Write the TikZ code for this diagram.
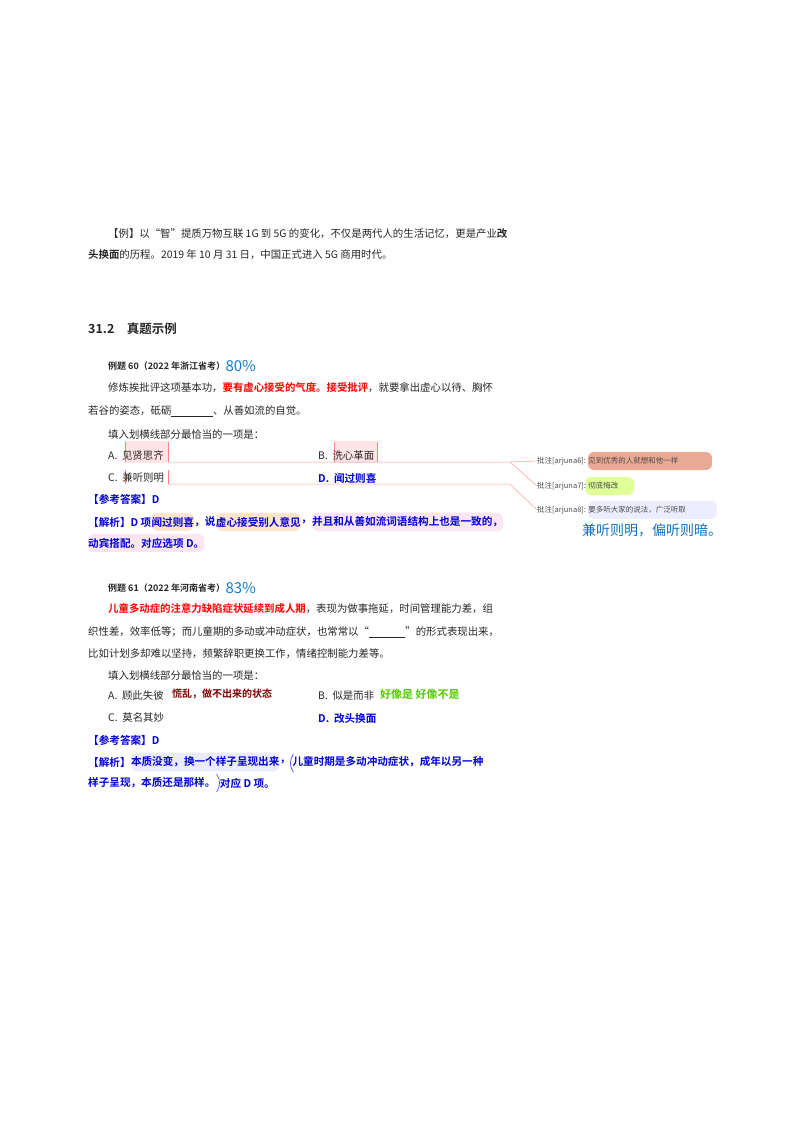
\documentclass[tikz,border=0pt]{standalone}
\usepackage{fontspec}
\setmainfont{Liberation Serif}
\newfontfamily\cjk{Noto Sans CJK SC}
\newfontfamily\cjkb{Noto Sans CJK SC Bold}
\begin{document}
\begin{tikzpicture}[x=1pt,y=-1pt,
 t/.style={anchor=west,inner sep=0pt,font=\cjk\fontsize{10.4}{11}\selectfont,text=black!85},
 tb/.style={t,font=\cjkb\fontsize{10.6}{11}\selectfont},
 bl/.style={tb,text=blue!85!black},
 nx/.style={anchor=west,at=(#1.east)},
 hl/.style={fill=#1,rounded corners=6pt,inner ysep=4pt,inner xsep=0pt},
 hand/.style={anchor=west,inner sep=0pt,font=\cjk\fontsize{15}{16}\selectfont,text=cyan!60!blue},
 cmt/.style={anchor=west,inner sep=0pt,font=\cjk\fontsize{7.5}{8}\selectfont,text=black!70},
 lnk/.style={draw=red!40,line width=0.5pt},
 par/.style={draw=blue!70,line width=0.7pt}]
\useasboundingbox (0,0) rectangle (800,1132);
% highlights
\fill[pink!40] (125,441) rectangle (168,463);
\fill[pink!40] (334,441) rectangle (377,463);
\fill[red!35!brown!50,rounded corners=6pt] (588,452) rectangle (712,470);
\fill[green!30!yellow!40,rounded corners=6pt] (585,477) rectangle (634,495);
\fill[blue!7,rounded corners=6pt] (588,501) rectangle (717,519);
\draw[red!50,line width=0.6pt] (125,442)--(125,462) (168,442)--(168,462) (334,442)--(334,462) (377,442)--(377,462)
 (125,470)--(125,484) (168,470)--(168,484);
% text
\node[t] (l1) at (108,234) {【例】以“智”提质万物互联 1G 到 5G 的变化，不仅是两代人的生活记忆，更是产业{\cjkb 改}};
\node[t] (l2) at (88,255) {{\cjkb 头换面}的历程。2019 年 10 月 31 日，中国正式进入 5G 商用时代。};
\node[tb,font=\cjkb\fontsize{12.5}{14}\selectfont] (h) at (88,329) {31.2\quad 真题示例};
\node[tb,font=\cjkb\fontsize{9}{10}\selectfont] (e60) at (108,366) {例题 60（2022 年浙江省考）};
\node[hand] (p60) at (e60.east) {80\%};
\node[t] (a1) at (108,388) {修炼挨批评这项基本功，{\cjkb\color{red}要有虚心接受的气度。接受批评}，就要拿出虚心以待、胸怀};
\node[t] (a2) at (88,411) {若谷的姿态，砥砺\underline{\hspace{4em}}、从善如流的自觉。};
\node[t] (a3) at (108,435) {填入划横线部分最恰当的一项是：};
\node[t] (oA) at (108,456) {A.\ \ 见贤思齐};
\node[t] (oB) at (318,456) {B.\ \ 洗心革面};
\node[t] (oC) at (108,478) {C.\ \ 兼听则明};
\node[bl] (oD) at (318,478) {D.\ \ 闻过则喜};
\node[bl] (ans) at (88,499) {【参考答案】D};
\node[bl] (j1a) at (88,522) {【解析】D 项};
\node[bl,hl=orange!20,nx=j1a] (j1b) {闻过则喜};
\node[bl,nx=j1b] (j1c) {，说};
\node[bl,hl=orange!20,nx=j1c] (j1d) {虚心接受别人意见};
\node[bl,nx=j1d] (j1e) {，};
\node[bl,hl=magenta!10,nx=j1e] (j1f) {并且和从善如流词语结构上也是一致的，};
\node[bl,hl=magenta!10] (j2) at (88,543) {动宾搭配。对应选项 D。};
\node[cmt] (c1) at (537,461) {批注[arjuna6]: 见到优秀的人就想和他一样};
\node[cmt] (c2) at (537,486) {批注[arjuna7]: 彻底悔改};
\node[cmt] (c3) at (537,510) {批注[arjuna8]: 要多听大家的说法，广泛听取};
\node[anchor=west,inner sep=0pt,font=\cjk\fontsize{14}{15}\selectfont,text=cyan!50!blue] (s) at (582,530) {兼听则明，偏听则暗。};
\coordinate (k1) at (510,462); \coordinate (k2) at (510,484);
\draw[lnk] (168,462) -- (k1) -- (c1.west); \draw[lnk] (k1) -- (c2.west);
\draw[lnk] (168,484) -- (k2) -- (c3.west);
\node[tb,font=\cjkb\fontsize{9}{10}\selectfont] (e61) at (108,588) {例题 61（2022 年河南省考）};
\node[hand] (p61) at (e61.east) {83\%};
\node[t] (b1) at (108,609) {{\cjkb\color{red}儿童多动症的注意力缺陷症状延续到成人期}，表现为做事拖延，时间管理能力差，组};
\node[t] (b2) at (88,632) {织性差，效率低等；而儿童期的多动或冲动症状，也常常以“\underline{\hspace{3.5em}}”的形式表现出来，};
\node[t] (b3) at (88,654) {比如计划多却难以坚持，频繁辞职更换工作，情绪控制能力差等。};
\node[t] (b4) at (108,676) {填入划横线部分最恰当的一项是：};
\node[t] (qA) at (108,696) {A.\ \ 顾此失彼};
\node[anchor=west,inner sep=0pt,font=\cjkb\fontsize{10}{11}\selectfont,text=red!50!black] (hA) at (172,694) {慌乱，做不出来的状态};
\node[t] (qB) at (318,696) {B.\ \ 似是而非};
\node[anchor=west,inner sep=0pt,font=\cjkb\fontsize{11}{11}\selectfont,text=green!60!yellow!80!black] (hB) at (380,694) {好像是\ 好像不是};
\node[t] (qC) at (108,718) {C.\ \ 莫名其妙};
\node[bl] (qD) at (318,718) {D.\ \ 改头换面};
\node[bl] (ans2) at (88,740) {【参考答案】D};
\node[bl] (k1a) at (88,762) {【解析】};
\node[bl,hl=blue!8,nx=k1a] (k1b) {本质没变，换一个样子呈现出来};
\node[bl,nx=k1b] (k1c) {，\,};
\node[bl,nx=k1c] (k1d) {儿童时期是多动冲动症状，成年以另一种};
\node[bl] (k2a) at (88,783) {样子呈现，本质还是那样。};
\node[bl,nx=k2a] (k2b) {\ \,对应 D 项。};
\draw[par] ([xshift=1pt,yshift=8pt]k1d.west) .. controls +(-4,6) and +(-4,-6) .. +(0,18);
\draw[par] ([xshift=1pt,yshift=9pt]k2a.east) .. controls +(4,6) and +(4,-6) .. +(0,18);
\end{tikzpicture}
\end{document}
